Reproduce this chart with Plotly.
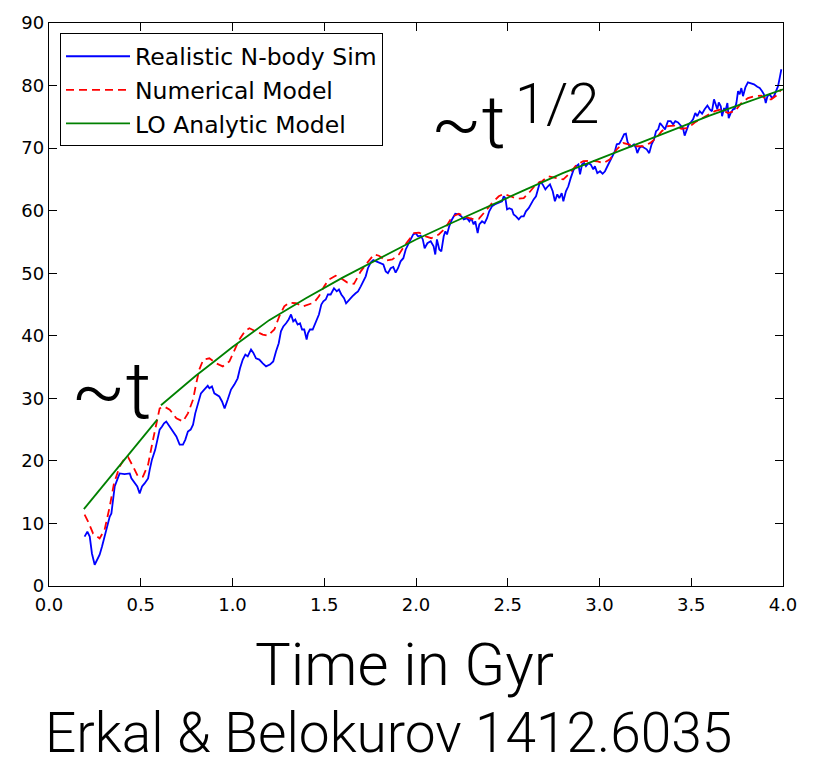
import plotly.graph_objects as go

# ---------------- data ----------------
sim_t = [0.194, 0.209, 0.222, 0.234, 0.249, 0.262, 0.276, 0.289, 0.303, 0.318, 0.331, 0.340, 0.349, 0.358,
         0.372, 0.385, 0.412, 0.440, 0.449, 0.467, 0.481, 0.494, 0.507, 0.521, 0.540, 0.549, 0.561, 0.579,
         0.590, 0.603, 0.616, 0.627, 0.639, 0.658, 0.676, 0.694, 0.712, 0.730, 0.743, 0.757, 0.772, 0.785,
         0.797, 0.819, 0.828, 0.846, 0.865, 0.874, 0.888, 0.901, 0.914, 0.928, 0.943, 0.957, 0.974, 0.992,
         1.010, 1.028, 1.041, 1.056, 1.070, 1.083, 1.101, 1.113, 1.128, 1.146, 1.165, 1.183, 1.204, 1.222,
         1.237, 1.252, 1.264, 1.277, 1.292, 1.306, 1.319, 1.331, 1.342, 1.355, 1.368, 1.379, 1.391, 1.404,
         1.411, 1.422, 1.437, 1.459, 1.471, 1.484, 1.495, 1.508, 1.520, 1.535, 1.553, 1.568, 1.580, 1.593,
         1.608, 1.619, 1.635, 1.653, 1.671, 1.684, 1.699, 1.713, 1.726, 1.738, 1.753, 1.767, 1.786, 1.804,
         1.822, 1.835, 1.847, 1.862, 1.876, 1.889, 1.902, 1.916, 1.931, 1.944, 1.956, 1.971, 1.985, 1.998,
         2.011, 2.026, 2.037, 2.047, 2.062, 2.080, 2.096, 2.105, 2.114, 2.127, 2.138, 2.151, 2.160, 2.169,
         2.181, 2.196, 2.214, 2.233, 2.247, 2.260, 2.278, 2.291, 2.301, 2.314, 2.323, 2.336, 2.345, 2.360,
         2.374, 2.387, 2.399, 2.414, 2.429, 2.441, 2.454, 2.469, 2.478, 2.487, 2.496, 2.508, 2.523, 2.532,
         2.545, 2.560, 2.574, 2.587, 2.599, 2.614, 2.628, 2.641, 2.654, 2.665, 2.677, 2.690, 2.705, 2.719,
         2.730, 2.745, 2.757, 2.770, 2.781, 2.794, 2.803, 2.817, 2.830, 2.843, 2.857, 2.872, 2.885, 2.894,
         2.905, 2.916, 2.926, 2.939, 2.952, 2.966, 2.975, 2.988, 3.003, 3.017, 3.030, 3.043, 3.057, 3.072,
         3.084, 3.094, 3.108, 3.121, 3.134, 3.144, 3.152, 3.163, 3.175, 3.188, 3.199, 3.206, 3.217, 3.230,
         3.243, 3.257, 3.271, 3.284, 3.297, 3.308, 3.320, 3.330, 3.344, 3.357, 3.373, 3.388, 3.401, 3.413,
         3.428, 3.443, 3.455, 3.464, 3.475, 3.486, 3.497, 3.510, 3.522, 3.533, 3.546, 3.559, 3.573, 3.588,
         3.601, 3.613, 3.624, 3.631, 3.642, 3.650, 3.661, 3.668, 3.679, 3.686, 3.697, 3.704, 3.715, 3.728,
         3.737, 3.746, 3.755, 3.764, 3.773, 3.782, 3.795, 3.809, 3.824, 3.842, 3.860, 3.873, 3.886, 3.896,
         3.906, 3.915, 3.928, 3.940, 3.951, 3.964, 3.973, 3.984, 3.991]
sim_v = [7.9, 8.7, 7.9, 5.2, 3.4, 4.2, 5.0, 6.3, 7.9, 9.5, 11.1, 11.6, 13.8, 15.9,
         17.0, 18.0, 17.9, 18.0, 17.2, 16.4, 15.9, 14.8, 15.9, 16.4, 17.2, 18.6, 20.2, 21.8,
         23.1, 25.0, 25.5, 26.0, 26.3, 25.5, 24.7, 23.9, 22.6, 22.6, 23.4, 24.7, 25.0, 25.8,
         27.6, 29.8, 30.8, 31.4, 32.0, 31.6, 31.9, 30.8, 30.6, 30.3, 29.5, 28.4, 29.8, 31.4,
         32.2, 33.2, 34.8, 36.2, 37.0, 36.7, 37.8, 37.3, 36.4, 36.2, 35.6, 35.1, 35.4, 35.9,
         37.5, 38.8, 40.7, 41.5, 42.0, 42.6, 43.4, 42.3, 42.6, 41.8, 42.0, 41.0, 41.0, 39.4,
         40.4, 41.0, 41.0, 42.6, 43.4, 45.0, 45.5, 45.8, 46.6, 46.6, 47.6, 47.1, 47.4, 46.6,
         46.0, 45.2, 45.8, 46.3, 46.8, 47.1, 47.9, 48.7, 49.5, 50.8, 51.7, 52.1, 51.9, 51.7,
         51.4, 50.3, 50.0, 50.8, 51.0, 50.1, 50.8, 51.9, 52.4, 53.8, 54.6, 55.4, 56.2, 56.4,
         55.9, 56.0, 55.4, 54.0, 54.8, 55.1, 54.3, 53.0, 55.4, 53.8, 53.5, 55.9, 56.7, 56.2,
         57.5, 58.6, 59.5, 59.4, 59.1, 58.6, 58.8, 58.3, 58.8, 57.8, 58.3, 56.4, 57.8, 58.3,
         58.0, 58.8, 59.9, 60.7, 61.0, 61.2, 61.3, 61.5, 62.3, 62.0, 60.2, 60.4, 60.2, 59.4,
         59.1, 58.6, 59.1, 59.1, 59.9, 60.4, 61.2, 61.8, 62.3, 63.4, 64.7, 64.2, 63.4, 63.9,
         64.2, 63.1, 61.5, 62.6, 62.0, 62.8, 61.5, 63.1, 63.9, 65.2, 66.4, 67.1, 67.4, 65.8,
         67.4, 67.6, 67.1, 67.6, 67.4, 66.6, 67.1, 66.0, 66.3, 65.9, 66.3, 67.1, 67.9, 68.7,
         69.5, 70.6, 70.7, 71.4, 72.2, 72.3, 71.1, 70.3, 70.3, 70.6, 70.0, 69.2, 70.0, 70.3,
         70.0, 69.8, 69.2, 70.6, 71.4, 72.7, 73.0, 74.0, 73.5, 73.0, 74.3, 74.3, 73.8, 74.3,
         74.1, 73.5, 73.2, 72.0, 73.0, 73.8, 74.1, 74.6, 75.6, 75.1, 75.9, 75.5, 76.2, 76.8,
         76.2, 75.9, 77.8, 77.0, 76.2, 77.3, 76.7, 75.1, 76.4, 75.9, 77.2, 74.8, 75.6, 76.2,
         76.3, 77.2, 79.1, 78.6, 79.6, 78.3, 79.7, 80.5, 80.4, 80.2, 79.8, 79.6, 79.1, 78.6,
         77.2, 78.3, 78.6, 78.0, 78.3, 79.1, 79.9, 81.5, 82.6]

num_t = [0.194, 0.213, 0.240, 0.276, 0.303, 0.331, 0.354, 0.385, 0.412, 0.431, 0.458, 0.485, 0.512, 0.540,
         0.567, 0.585, 0.603, 0.627, 0.658, 0.694, 0.730, 0.757, 0.785, 0.801, 0.819, 0.841, 0.874, 0.910,
         0.947, 0.983, 1.010, 1.037, 1.070, 1.092, 1.128, 1.165, 1.192, 1.228, 1.255, 1.282, 1.310, 1.346,
         1.383, 1.419, 1.444, 1.471, 1.499, 1.526, 1.562, 1.590, 1.626, 1.662, 1.699, 1.735, 1.771, 1.798,
         1.835, 1.871, 1.907, 1.935, 1.962, 1.989, 2.016, 2.053, 2.083, 2.124, 2.160, 2.196, 2.233, 2.269,
         2.305, 2.342, 2.378, 2.414, 2.451, 2.478, 2.514, 2.550, 2.587, 2.623, 2.659, 2.687, 2.719, 2.767,
         2.803, 2.839, 2.876, 2.912, 2.948, 2.985, 3.021, 3.057, 3.094, 3.130, 3.166, 3.203, 3.239, 3.275,
         3.312, 3.339, 3.373, 3.410, 3.446, 3.482, 3.519, 3.555, 3.591, 3.628, 3.664, 3.700, 3.737, 3.773,
         3.809, 3.845, 3.882, 3.909, 3.936, 3.964, 3.991]
num_v = [11.4, 10.3, 8.4, 7.6, 9.0, 12.7, 16.4, 19.1, 20.4, 20.6, 19.1, 17.5, 17.5, 19.4,
         23.4, 25.8, 28.4, 28.7, 28.2, 26.8, 26.3, 27.6, 29.8, 32.2, 34.6, 36.2, 36.4, 35.6,
         35.1, 35.9, 37.8, 39.4, 40.8, 41.2, 40.7, 40.2, 40.0, 41.0, 43.1, 44.7, 45.3, 45.2,
         44.7, 45.0, 45.3, 46.3, 47.9, 49.0, 49.6, 49.2, 48.5, 48.3, 50.3, 51.7, 53.0, 52.8,
         52.0, 52.2, 53.0, 54.3, 55.4, 56.4, 56.5, 55.9, 55.6, 56.2, 57.2, 59.0, 59.5, 59.0,
         58.7, 58.7, 59.9, 61.2, 62.3, 62.7, 62.3, 61.9, 62.0, 63.1, 64.4, 64.7, 65.5, 65.2,
         65.0, 66.0, 67.4, 67.9, 68.0, 67.9, 67.6, 68.2, 69.8, 70.8, 70.6, 70.3, 70.3, 70.8,
         71.7, 72.7, 73.5, 73.6, 73.1, 73.2, 74.1, 74.7, 75.4, 75.9, 76.2, 75.6, 75.9, 77.2,
         78.0, 78.3, 78.4, 77.8, 77.8, 78.4, 79.4]

lo_t = [0.19, 0.59, None, 0.61, 0.7, 0.8, 0.9, 1.0, 1.2, 1.4, 1.6, 1.8, 2.0, 2.2, 2.4, 2.6, 2.8,
        3.0, 3.2, 3.4, 3.6, 3.8, 4.0]
lo_v = [12.3, 26.6, None, 28.9, 31.2, 33.6, 35.9, 38.2, 42.5, 46.0, 49.3, 52.4, 55.4, 58.1, 60.8,
        63.4, 66.0, 68.3, 70.7, 73.0, 75.2, 77.3, 79.4]

x_ticks = [0.0, 0.5, 1.0, 1.5, 2.0, 2.5, 3.0, 3.5, 4.0]
y_ticks = [0, 10, 20, 30, 40, 50, 60, 70, 80, 90]

# ---------------- figure ----------------
W, H = 831, 759
L, R, T, B = 49, 783, 22.5, 586


def px(x):
    return (x - L) / (R - L)


def py(y):
    return (B - y) / (B - T)


fig = go.Figure()
fig.add_trace(go.Scatter(x=sim_t, y=sim_v, mode="lines", name="Realistic N-body Sim",
                         line=dict(color="#0000FF", width=1.8)))
fig.add_trace(go.Scatter(x=num_t, y=num_v, mode="lines", name="Numerical Model",
                         line=dict(color="#FF0000", width=1.8, dash="8px,5px")))
fig.add_trace(go.Scatter(x=lo_t, y=lo_v, mode="lines", name="LO Analytic Model",
                         line=dict(color="#008000", width=1.8), connectgaps=False))

axis_common = dict(showline=True, linecolor="black", linewidth=1.3, mirror="allticks",
                   ticks="inside", ticklen=8, tickwidth=1, tickcolor="black",
                   showgrid=False, zeroline=False,
                   tickfont=dict(family="DejaVu Sans", size=18, color="black"))

fig.update_xaxes(range=[0, 4], tickvals=x_ticks, ticktext=[f"{v:.1f}" for v in x_ticks],
                 ticklabelstandoff=2, **axis_common)
fig.update_yaxes(range=[0, 90], tickvals=y_ticks, ticktext=[str(v) for v in y_ticks], **axis_common)

big_font = "Roboto"
annos = [
    dict(text="~t", x=px(111), y=py(391), size=80),
    dict(text="~t", x=px(468), y=py(122), size=74),
    dict(text="1/2", x=px(557), y=py(104), size=56),
    dict(text="Time in Gyr", x=px(404), y=py(665), size=60),
    dict(text="Erkal &amp; Belokurov 1412.6035", x=px(388), y=py(733), size=55),
]
for a in annos:
    fig.add_annotation(text=a["text"], x=a["x"], y=a["y"], xref="paper", yref="paper",
                       xanchor="center", yanchor="middle", showarrow=False,
                       font=dict(family=big_font, size=a["size"], color="black", weight=300))

fig.update_layout(
    width=W, height=H,
    margin=dict(l=L, r=W - R, t=T, b=H - B, pad=0),
    paper_bgcolor="white", plot_bgcolor="white",
    showlegend=True,
    legend=dict(x=px(60), y=py(33), xanchor="left", yanchor="top",
                bgcolor="white", bordercolor="black", borderwidth=1,
                font=dict(family="DejaVu Sans", size=23.5, color="black"),
                itemwidth=64, tracegroupgap=0),
)

fig.write_html("out.html")
